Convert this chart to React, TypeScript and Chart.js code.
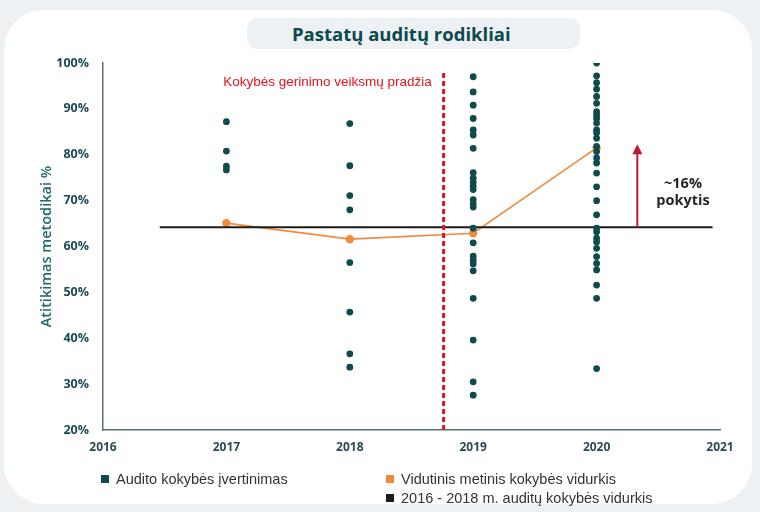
import React, { useEffect, useRef } from "react";
import { Chart, registerables } from "chart.js";

Chart.register(...registerables);

// ---------- data ----------
const years = [2017, 2018, 2019, 2020];
const audits2017 = [87.2, 80.8, 77.5, 76.7];
const audits2018 = [86.8, 77.6, 71.1, 68.0, 56.5, 45.7, 36.6, 33.7];
const audits2019 = [97.0, 93.7, 90.8, 87.9, 85.4, 84.3, 81.4, 76.1, 74.9, 74.0, 73.2, 72.4, 70.2, 69.3, 68.6, 64.0, 60.8, 57.9, 57.0, 56.2, 54.7, 48.7, 39.6, 30.5, 27.6];
const audits2020 = [100, 97.2, 95.7, 94.3, 92.7, 91.2, 89.4, 88.7, 87.9, 86.9, 85.4, 84.8, 83.6, 81.8, 80.7, 79.3, 78.2, 76.0, 73.0, 70.0, 66.9, 64.0, 63.2, 61.8, 61.0, 59.6, 57.8, 56.3, 54.9, 51.6, 48.7, 33.4];
const auditsByYear = [audits2017, audits2018, audits2019, audits2020];
const yearlyAverage = [65.1, 61.6, 62.9, 81.5];
const baselineAverage = 64.2;
const baselineSpan = [2016.46, 2020.94];
const xTickYears = [2016, 2017, 2018, 2019, 2020, 2021];
const yRange = [20, 100];
const yStep = 10;

const startMarkerYear = 2018.76;
const startMarkerSpan = [97.8, 19.6];
const startLabel = "Kokybės gerinimo veiksmų pradžia";
const startLabelPos = [2018.665, 95.9];
const changeArrowYear = 2020.33;
const changeArrowSpan = [baselineAverage, 82.3];
const changeLabelLines = ["~16%", "pokytis"];
const changeLabelPos = [2020.7, 73.7, 70.0];

const legendItems = [
  { label: "Audito kokybės įvertinimas", color: "#0f4a4c" },
  { label: "Vidutinis metinis kokybės vidurkis", color: "#f08a3c" },
  { label: "2016 - 2018 m. auditų kokybės vidurkis", color: "#1b1b1b" },
];

const TEAL = "#0f4a4c";
const ORANGE = "#f08a3c";

const annotationPlugin = {
  id: "annotations",
  afterDatasetsDraw(chart: any) {
    const { ctx } = chart;
    const x = chart.scales.x;
    const y = chart.scales.y;
    ctx.save();
    // red dashed start line
    const sx = x.getPixelForValue(startMarkerYear);
    ctx.strokeStyle = "#e5121c";
    ctx.lineWidth = 3;
    ctx.setLineDash([5, 3]);
    ctx.beginPath();
    ctx.moveTo(sx, y.getPixelForValue(startMarkerSpan[0]));
    ctx.lineTo(sx, y.getPixelForValue(startMarkerSpan[1]));
    ctx.stroke();
    ctx.setLineDash([]);
    ctx.fillStyle = "#e5121c";
    ctx.font = '13.5px "Liberation Sans", Arial, sans-serif';
    ctx.textAlign = "right";
    ctx.textBaseline = "middle";
    ctx.fillText(startLabel, x.getPixelForValue(startLabelPos[0]), y.getPixelForValue(startLabelPos[1]));

    // change arrow
    const ax = x.getPixelForValue(changeArrowYear);
    const ay0 = y.getPixelForValue(changeArrowSpan[0]);
    const ay1 = y.getPixelForValue(changeArrowSpan[1]);
    ctx.strokeStyle = "#c0182f";
    ctx.fillStyle = "#c0182f";
    ctx.lineWidth = 2;
    ctx.beginPath();
    ctx.moveTo(ax, ay0);
    ctx.lineTo(ax, ay1 + 8);
    ctx.stroke();
    ctx.beginPath();
    ctx.moveTo(ax, ay1);
    ctx.lineTo(ax - 5, ay1 + 10);
    ctx.lineTo(ax + 5, ay1 + 10);
    ctx.closePath();
    ctx.fill();

    ctx.fillStyle = "#262626";
    ctx.font = 'bold 14.5px "Open Sans", "Noto Sans", sans-serif';
    ctx.textAlign = "center";
    const lx = x.getPixelForValue(changeLabelPos[0]);
    ctx.fillText(changeLabelLines[0], lx, y.getPixelForValue(changeLabelPos[1]));
    ctx.fillText(changeLabelLines[1], lx, y.getPixelForValue(changeLabelPos[2]));
    ctx.restore();
  },
};

export default function App() {
  const ref = useRef<HTMLCanvasElement | null>(null);

  useEffect(() => {
    if (!ref.current) return;
    const dots: { x: number; y: number }[] = [];
    auditsByYear.forEach((vals, i) => vals.forEach((v) => dots.push({ x: years[i], y: v })));

    const chart = new Chart(ref.current, {
      type: "scatter",
      data: {
        datasets: [
          {
            label: legendItems[0].label,
            data: dots,
            backgroundColor: TEAL,
            borderColor: TEAL,
            pointRadius: 3.4,
            borderWidth: 0,
            showLine: false,
          },
          {
            label: legendItems[2].label,
            data: baselineSpan.map((xv) => ({ x: xv, y: baselineAverage })),
            borderColor: "#1b1b1b",
            backgroundColor: "#1b1b1b",
            borderWidth: 2,
            pointRadius: 0,
            showLine: true,
          },
          {
            label: legendItems[1].label,
            data: years.map((yr, i) => ({ x: yr, y: yearlyAverage[i] })),
            borderColor: ORANGE,
            backgroundColor: ORANGE,
            borderWidth: 1.6,
            pointRadius: 3.4,
            showLine: true,
          },
        ],
      },
      options: {
        animation: false,
        responsive: false,
        layout: { padding: { left: 0, right: 40, top: 63, bottom: 52 } },
        plugins: { legend: { display: false }, tooltip: { enabled: false }, title: { display: false } },
        scales: {
          x: {
            type: "linear",
            min: xTickYears[0],
            max: xTickYears[xTickYears.length - 1],
            afterBuildTicks: (s: any) => {
              s.ticks = xTickYears.map((v) => ({ value: v }));
            },
            afterFit: (s: any) => {
              s.height = 30;
            },
            grid: { display: false, drawTicks: false },
            border: { display: true, color: "#52727a", width: 1.5 },
            ticks: {
              padding: 10,
              color: "#2c4a52",
              font: { family: '"Open Sans", "Noto Sans", sans-serif', size: 12, weight: "bold" },
              callback: (v: any) => String(v),
            },
          },
          y: {
            min: yRange[0],
            max: yRange[1],
            afterFit: (s: any) => {
              s.width = 103;
            },
            grid: { display: false, drawTicks: false },
            border: { display: true, color: "#52727a", width: 1.5 },
            ticks: {
              stepSize: yStep,
              padding: 14,
              color: "#1d4a52",
              font: { family: '"Open Sans", "Noto Sans", sans-serif', size: 12.5, weight: "bold" },
              callback: (v: any) => `${v}%`,
            },
            title: {
              display: true,
              text: "Atitikimas metodikai %",
              color: "#1e6a6c",
              padding: { top: 38, bottom: 0 },
              font: { family: '"Open Sans", "Noto Sans", sans-serif', size: 14.5, weight: "600" },
            },
          },
        },
      } as any,
      plugins: [annotationPlugin],
    });
    return () => chart.destroy();
  }, []);

  return (
    <div style={{ position: "absolute", left: 0, top: 0, width: 760, height: 512, background: "#eef1f3", overflow: "hidden" }}>
      <div style={{ position: "absolute", left: 4, top: 10, width: 748, height: 494, background: "#ffffff", borderRadius: 40 }} />
      <div
        style={{
          position: "absolute",
          left: 247,
          top: 18,
          width: 333,
          height: 31,
          background: "#eef1f3",
          borderRadius: 10,
          display: "flex",
          alignItems: "center",
          justifyContent: "flex-start",
          paddingLeft: 45,
          boxSizing: "border-box",
          fontFamily: '"Open Sans", "Noto Sans", sans-serif',
          fontWeight: 700,
          fontSize: 18.5,
          color: "#0c4a4d",
        }}
      >
        Pastatų auditų rodikliai
      </div>
      <canvas ref={ref} width={760} height={512} style={{ position: "absolute", left: 0, top: 0, width: 760, height: 512 }} />
      {[
        { item: legendItems[0], left: 101, top: 470 },
        { item: legendItems[1], left: 386, top: 470 },
        { item: legendItems[2], left: 386, top: 489 },
      ].map(({ item, left, top }) => (
        <div
          key={item.label}
          style={{
            position: "absolute",
            left,
            top,
            height: 17,
            display: "flex",
            alignItems: "center",
            fontFamily: '"Liberation Sans", Arial, sans-serif',
            fontSize: 14.5,
            color: "#333",
            whiteSpace: "nowrap",
          }}
        >
          <span style={{ display: "inline-block", width: 8, height: 8, background: item.color, marginRight: 7 }} />
          {item.label}
        </div>
      ))}
    </div>
  );
}
